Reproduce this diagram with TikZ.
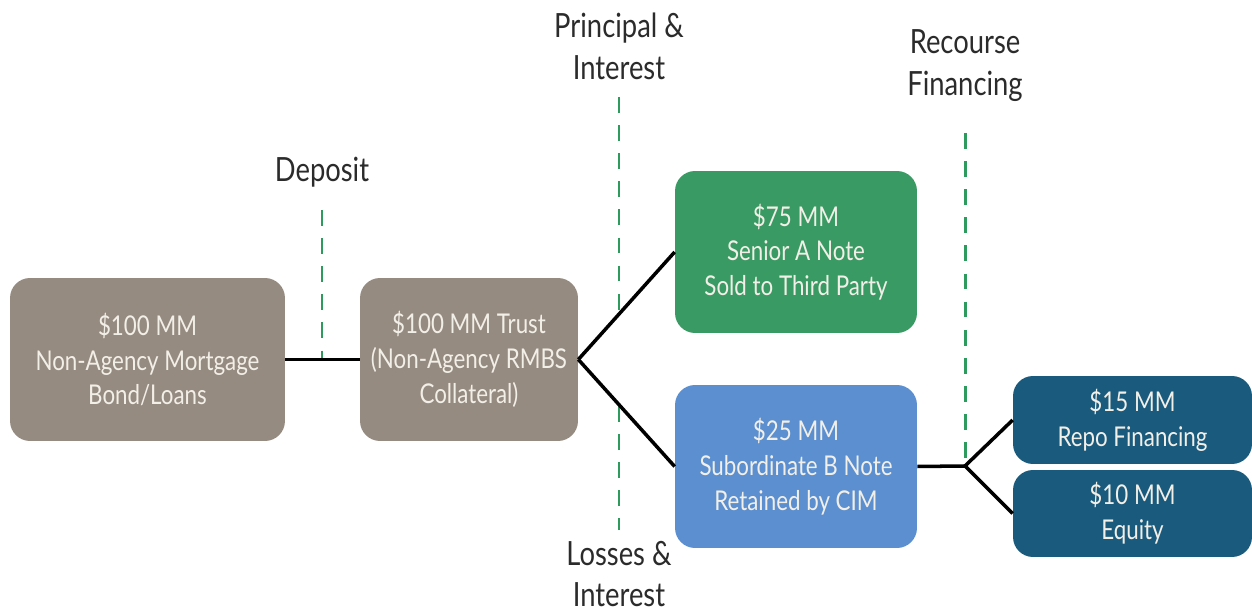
\documentclass[tikz,border=0pt]{standalone}
\usepackage{fontspec}
\setmainfont{Lato}[FakeStretch=0.82]
\definecolor{taupe}{HTML}{968B80}
\definecolor{sgreen}{HTML}{3A9A63}
\definecolor{sblue}{HTML}{5B8FD0}
\definecolor{dblue}{HTML}{1A5A7D}
\definecolor{dashgreen}{HTML}{2E9A5E}
\definecolor{boxtext}{HTML}{F2EFE8}
\definecolor{labeltext}{HTML}{2B2B2B}
\tikzset{
  box/.style={rounded corners=0.4cm, align=center, text=boxtext, font=\fontsize{15.5}{19.8}\selectfont, inner sep=0pt},
  conn/.style={draw=black, line width=2pt},
  divider/.style={draw=dashgreen, line width=1.7pt, dash pattern=on 9pt off 7pt},
  lbl/.style={align=center, text=labeltext, font=\fontsize{19}{23.8}\selectfont, inner sep=0pt}
}
\begin{document}
\begin{tikzpicture}[x=0.02cm, y=-0.02cm]
\useasboundingbox (0,0) rectangle (1252,614);
% dividers
\coordinate (d1t) at (322,210);
\coordinate (d1b) at (322,358);
\coordinate (d2t) at (619,97);
\coordinate (d2m) at (619,314);
\coordinate (d2n) at (619,406);
\coordinate (d2b) at (619,530);
\coordinate (d3t) at (965,133);
\coordinate (j) at (965,466);
\draw[divider] (d1t) -- (d1b);
\draw[divider] (d2t) -- (d2m);
\draw[divider] (d2n) -- (d2b);
\draw[divider] (d3t) -- (j);
% labels
\node[lbl] (ldep) at (322,172) {Deposit};
\node[lbl] (lpi) at (619,46) {Principal \&\\Interest};
\node[lbl] (lli) at (619,574) {Losses \&\\Interest};
\node[lbl] (lrf) at (965,66) {Recourse\\Financing};
% boxes
\node[box, fill=taupe, minimum width=5.5cm, minimum height=3.26cm] (b1) at (147.5,359.5) {\$100 MM\\Non-Agency Mortgage\\Bond/Loans};
\node[box, fill=taupe, minimum width=4.36cm, minimum height=3.26cm] (b2) at (469,359.5) {\$100 MM Trust\\(Non-Agency RMBS\\Collateral)};
\node[box, fill=sgreen, minimum width=4.84cm, minimum height=3.24cm] (ga) at (796,252) {\$75 MM\\Senior A Note\\Sold to Third Party};
\node[box, fill=sblue, minimum width=4.84cm, minimum height=3.26cm] (bb) at (796,466.5) {\$25 MM\\Subordinate B Note\\Retained by CIM};
\node[box, fill=dblue, minimum width=4.78cm, minimum height=1.76cm] (repo) at (1132.5,420) {\$15 MM\\Repo Financing};
\node[box, fill=dblue, minimum width=4.78cm, minimum height=1.74cm] (eq) at (1132.5,513.5) {\$10 MM\\Equity};
% connectors
\draw[conn] (b1.east) -- (b2.west);
\draw[conn] (b2.east) -- (ga.west);
\draw[conn] (b2.east) -- (bb.west);
\draw[conn] (bb.east) -- (j);
\draw[conn] (j) -- (repo.west);
\draw[conn] (j) -- (eq.west);
\end{tikzpicture}
\end{document}
